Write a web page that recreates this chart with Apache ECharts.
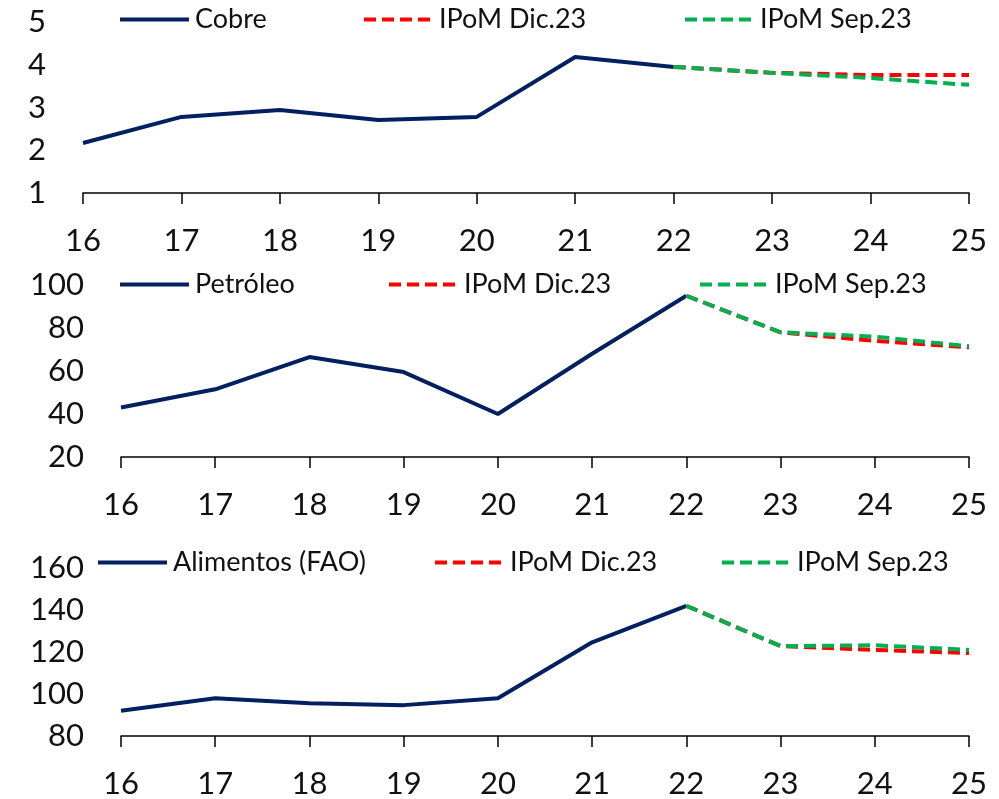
<!DOCTYPE html>
<html>
<head>
<meta charset="utf-8">
<script src="https://cdn.jsdelivr.net/npm/echarts@6/dist/echarts.min.js"></script>
<style>
  html, body { margin: 0; padding: 0; background: #fff; }
  #chart { width: 999px; height: 799px; }
</style>
</head>
<body>
<div id="chart"></div>
<script>
// categorias (años)
const years = ["16", "17", "18", "19", "20", "21", "22", "23", "24", "25"];

// Cobre
const cobre = [2.17, 2.78, 2.94, 2.71, 2.78, 4.18, 3.95, null, null, null];
const cobreDic = [null, null, null, null, null, null, 3.95, 3.81, 3.76, 3.76];
const cobreSep = [null, null, null, null, null, null, 3.95, 3.81, 3.69, 3.53];

// Petróleo
const petroleo = [43, 51.5, 66.5, 59.5, 40, 68, 95, null, null, null];
const petroleoDic = [null, null, null, null, null, null, 95, 78, 74, 71];
const petroleoSep = [null, null, null, null, null, null, 95, 78, 76, 71.5];

// Alimentos (FAO)
const alimentos = [92, 98, 95.6, 94.7, 98, 124.6, 142, null, null, null];
const alimentosDic = [null, null, null, null, null, null, 142, 122.8, 121, 119.5];
const alimentosSep = [null, null, null, null, null, null, 142, 122.8, 123.2, 121];

const panelNames = ["Cobre", "Petróleo", "Alimentos (FAO)"];
const dicName = "IPoM Dic.23";
const sepName = "IPoM Sep.23";

const yMin = [1, 20, 80];
const yMax = [5, 100, 160];
const yStep = [1, 20, 20];

const FONT = "Lato";
const NAVY = "#002060";
const RED = "#FF0000";
const GREEN = "#00B050";

let chart = echarts.init(document.getElementById("chart"));

const grids = [
  { left: 83, top: 22, width: 886, height: 171 },
  { left: 121, top: 285, width: 848, height: 172 },
  { left: 121, top: 568, width: 848, height: 170 },
];

// posiciones de leyenda por panel: [x, y] para cada ítem
const legendPos = [
  [[118, 6], [362, 6], [683, 6]],
  [[118, 271], [387, 271], [698, 271]],
  [[96, 549], [433, 549], [720, 549]],
];

const mainData = [cobre, petroleo, alimentos];
const dicData = [cobreDic, petroleoDic, alimentosDic];
const sepData = [cobreSep, petroleoSep, alimentosSep];

let xAxes = [], yAxes = [], series = [], legends = [];

grids.forEach((g, i) => {
  xAxes.push({
    type: "category",
    gridIndex: i,
    data: years,
    boundaryGap: false,
    axisLine: { lineStyle: { color: "#000", width: 1.5 } },
    axisTick: { show: true, length: 11, lineStyle: { color: "#000", width: 1.5 } },
    axisLabel: { color: "#111", fontSize: 31, fontFamily: FONT, margin: 32 },
    splitLine: { show: false },
  });
  yAxes.push({
    type: "value",
    gridIndex: i,
    min: yMin[i],
    max: yMax[i],
    interval: yStep[i],
    axisLine: { show: false },
    axisTick: { show: false },
    splitLine: { show: false },
    axisLabel: { color: "#111", fontSize: 31, fontFamily: FONT, margin: 37 },
  });
  series.push(
    {
      name: panelNames[i],
      type: "line",
      xAxisIndex: i,
      yAxisIndex: i,
      data: mainData[i],
      symbol: "none",
      lineStyle: { color: NAVY, width: 4 },
      itemStyle: { color: NAVY },
    },
    {
      name: dicName,
      type: "line",
      xAxisIndex: i,
      yAxisIndex: i,
      data: dicData[i],
      symbol: "none",
      lineStyle: { color: RED, width: 4, type: [12, 6] },
      itemStyle: { color: RED },
    },
    {
      name: sepName,
      type: "line",
      xAxisIndex: i,
      yAxisIndex: i,
      data: sepData[i],
      symbol: "none",
      lineStyle: { color: GREEN, width: 4, type: [12, 6] },
      itemStyle: { color: GREEN },
    }
  );
  [panelNames[i], dicName, sepName].forEach((nm, k) => {
    legends.push({
      data: [nm],
      left: legendPos[i][k][0],
      top: legendPos[i][k][1],
      padding: 0,
      itemWidth: 69,
      itemHeight: 4,
      itemGap: 0,
      selectedMode: false,
      itemStyle: { opacity: 0 },
      lineStyle: { width: 4 },
      textStyle: { color: "#111", fontSize: 27, fontFamily: FONT, padding: [0, 0, 0, 1] },
    });
  });
});

chart.setOption({
  animation: false,
  backgroundColor: "#fff",
  grid: grids,
  xAxis: xAxes,
  yAxis: yAxes,
  legend: legends,
  series: series,
});
</script>
</body>
</html>
